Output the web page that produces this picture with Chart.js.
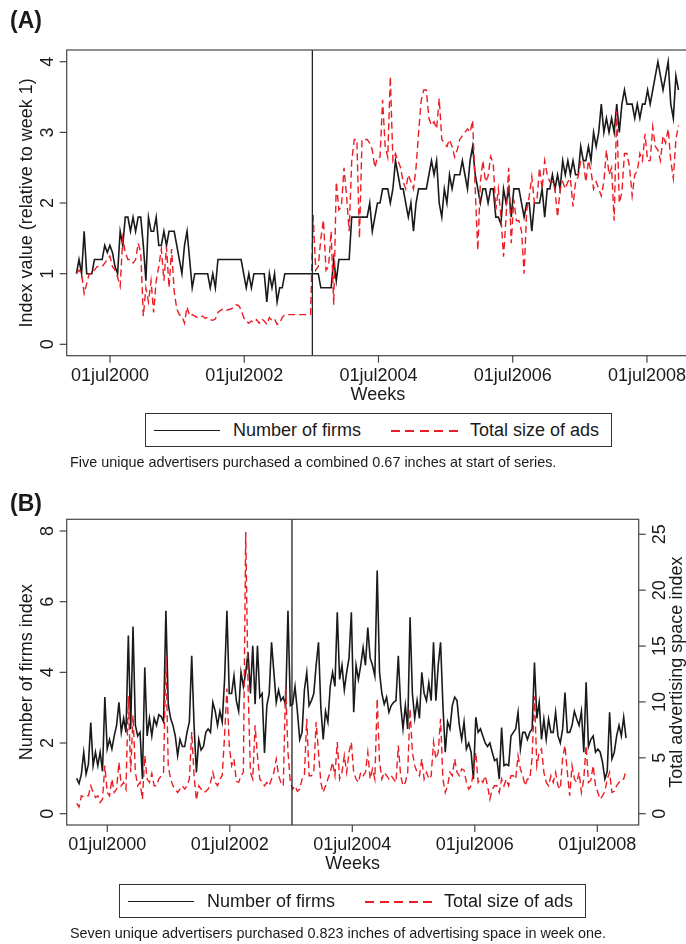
<!DOCTYPE html>
<html>
<head>
<meta charset="utf-8">
<script src="https://cdn.jsdelivr.net/npm/chart.js@4.4.1/dist/chart.umd.min.js"></script>
<style>
  body { margin: 0; width: 686px; height: 944px; overflow: hidden; background: #fff; position: relative;
         font-family: "Liberation Sans", Arial, sans-serif; color: #1a1a1a; }
  canvas { position: absolute; left: 0; }
  #chartA { top: 0; }
  #chartB { top: 470px; }
  .tag { position: absolute; left: 10px; font-weight: bold; font-size: 23px; line-height: 23px; }
  .legend { position: absolute; width: 467px; height: 34px; border: 1px solid #333; box-sizing: border-box; background: #fff; }
  .legend .solid { position: absolute; left: 8px; width: 66px; top: 16px; border-top: 1.5px solid #1a1a1a; }
  .legend .dash { position: absolute; left: 245px; width: 67px; top: 16px; height: 1.5px;
                  background: repeating-linear-gradient(to right, #ec1c24 0 9px, transparent 9px 14.5px); }
  .legend span { position: absolute; top: 6px; font-size: 18px; line-height: 20px; white-space: nowrap; }
  .caption { position: absolute; left: 70px; font-size: 14.4px; line-height: 15px; white-space: nowrap; }
</style>
</head>
<body>
<canvas id="chartA" width="700" height="470"></canvas>
<canvas id="chartB" width="700" height="474"></canvas>

<div class="tag" style="top:9px">(A)</div>
<div class="legend" style="left:145px; top:413px">
  <div class="solid"></div><span style="left:87px">Number of firms</span>
  <div class="dash"></div><span style="left:324px">Total size of ads</span>
</div>
<div class="caption" style="top:455px">Five unique advertisers purchased a combined 0.67 inches at start of series.</div>

<div class="tag" style="top:492px">(B)</div>
<div class="legend" style="left:119px; top:884px">
  <div class="solid"></div><span style="left:87px">Number of firms</span>
  <div class="dash"></div><span style="left:324px">Total size of ads</span>
</div>
<div class="caption" style="top:926px">Seven unique advertisers purchased 0.823 inches of advertising space in week one.</div>

<script>
// samples every two weeks, starting first week of January 2000
const startYear = 2000.0;
const stepYears = 14 / 365.25;
const breakYear = 2003.515;
const tickYears = [2000.5, 2002.5, 2004.5, 2006.5, 2008.5];
const tickLabels = ['01jul2000', '01jul2002', '01jul2004', '01jul2006', '01jul2008'];

// Panel A: index relative to week 1
const firmsA = [
  1.0, 1.2, 1.0, 1.6, 1.0, 1.0, 1.0, 1.2, 1.2, 1.2,
  1.2, 1.4, 1.3, 1.4, 1.3, 1.1, 1.0, 1.6, 1.4, 1.8,
  1.8, 1.6, 1.8, 1.6, 1.8, 1.8, 1.4, 0.9, 1.8, 1.6,
  1.6, 1.8, 1.4, 1.4, 1.6, 1.4, 1.6, 1.6, 1.6, 1.4,
  1.2, 1.0, 1.4, 1.6, 1.2, 0.8, 1.0, 1.0, 1.0, 1.0,
  1.0, 1.0, 0.8, 1.0, 0.8, 1.2, 1.2, 1.2, 1.2, 1.2,
  1.2, 1.2, 1.2, 1.2, 1.2, 1.0, 0.8, 1.0, 0.8, 1.0,
  1.0, 1.0, 1.0, 1.0, 0.6, 1.0, 0.8, 1.0, 0.6, 0.8,
  0.8, 1.0, 1.0, 1.0, 1.0, 1.0, 1.0, 1.0, 1.0, 1.0,
  1.0, 1.0, 1.0, 1.0, 1.0, 0.8, 0.8, 0.8, 0.8, 0.8,
  1.2, 0.9, 1.2, 1.2, 1.2, 1.2, 1.2, 1.8, 1.8, 1.8,
  1.8, 1.8, 1.8, 1.8, 2.0, 1.6, 1.8, 2.0, 2.0, 2.2,
  2.2, 2.2, 2.0, 2.2, 2.6, 2.4, 2.2, 2.2, 2.0, 1.8,
  2.0, 1.6, 2.0, 2.2, 2.2, 2.2, 2.2, 2.4, 2.6, 2.4,
  2.6, 2.0, 1.8, 2.2, 2.0, 2.4, 2.2, 2.4, 2.4, 2.4,
  2.6, 2.4, 2.2, 2.6, 2.8, 2.4, 2.2, 2.0, 2.2, 2.2,
  2.0, 2.2, 2.2, 1.8, 1.8, 1.7, 2.2, 2.0, 2.2, 1.8,
  2.2, 2.2, 2.2, 2.0, 1.8, 2.0, 2.0, 1.6, 2.0, 2.0,
  2.0, 2.2, 1.8, 2.2, 2.2, 2.4, 2.2, 2.4, 2.2, 2.6,
  2.4, 2.6, 2.4, 2.6, 2.4, 2.4, 2.8, 2.6, 2.6, 2.8,
  2.6, 3.0, 2.8, 3.0, 3.4, 3.0, 3.2, 3.0, 3.2, 3.0,
  3.4, 3.0, 3.4, 3.6, 3.4, 3.4, 3.4, 3.2, 3.4, 3.2,
  3.4, 3.4, 3.6, 3.4, 3.6, 3.8, 4.0, 3.8, 3.6, 3.8,
  4.0, 3.4, 3.2, 3.8, 3.6
];
const adsA = [
  1.0, 1.05, 1.0, 0.72, 0.86, 1.0, 1.0, 1.05, 1.1, 1.1,
  1.1, 1.15, 1.2, 1.25, 1.1, 1.05, 0.95, 0.82, 1.5, 1.3,
  1.2, 1.2, 1.15, 1.2, 1.43, 1.3, 0.4, 0.8, 0.6, 0.9,
  0.45, 0.9, 1.1, 1.35, 0.9, 1.38, 0.8, 1.35, 0.75, 0.5,
  0.42, 0.4, 0.3, 0.53, 0.4, 0.42, 0.4, 0.38, 0.38, 0.4,
  0.37, 0.38, 0.35, 0.34, 0.36, 0.45, 0.48, 0.5, 0.48, 0.49,
  0.5, 0.52, 0.56, 0.55, 0.49, 0.38, 0.32, 0.3, 0.33, 0.31,
  0.35, 0.3, 0.36, 0.33, 0.28, 0.38, 0.34, 0.36, 0.28, 0.3,
  0.38, 0.42, 0.42, 0.42, 0.42, 0.42, 0.42, 0.42, 0.42, 0.42,
  0.42, 0.42, 1.83, 1.05, 1.1, 1.5, 1.76, 1.05, 1.1, 1.6,
  0.56, 2.3, 1.9, 1.95, 2.5, 2.1, 1.6, 2.6, 2.9, 2.9,
  1.5, 2.9, 2.9, 2.9, 2.85, 2.75, 2.5, 2.65, 2.65, 3.46,
  2.8, 2.65, 3.79, 2.6, 2.7, 2.6, 2.5, 2.3, 2.2, 2.4,
  2.3, 2.2, 2.5, 3.0, 3.45, 3.6, 3.6, 3.2, 3.1, 3.15,
  3.05, 3.48, 2.9, 2.85, 2.8, 2.9, 2.8, 2.65, 2.75, 2.9,
  2.95, 3.0, 3.05, 3.0, 3.17, 2.2, 1.33, 2.3, 2.6, 2.3,
  2.38, 2.66, 2.56, 1.9, 2.2, 1.8, 1.24, 1.8, 2.5, 1.43,
  2.05, 1.75, 1.75, 1.6, 1.0, 1.9, 2.1, 2.37, 2.0, 2.05,
  2.5, 2.2, 2.6, 2.4, 2.3, 2.3, 2.2, 1.8, 2.2, 2.3,
  2.2, 2.3, 2.35, 1.95, 2.3, 2.37, 2.6, 2.6, 2.3, 2.6,
  2.45, 2.2, 2.3, 2.2, 2.1, 2.3, 2.75, 2.4, 2.5, 1.75,
  3.3, 2.0, 2.15, 2.7, 2.7, 2.5, 2.1, 2.4, 2.45, 2.7,
  2.6, 2.98, 2.6, 2.6, 3.08, 2.8, 2.75, 2.6, 2.95, 2.85,
  3.05, 2.6, 2.35, 2.9, 3.1
];

// Panel B: number of firms index (left axis), advertising space index (right axis)
const firmsB = [
  1.0, 0.85, 1.12, 1.74, 1.12, 1.4, 2.58, 1.36, 1.74, 1.36,
  1.74, 1.2, 3.3, 1.83, 2.1, 1.83, 2.2, 2.5, 3.15, 2.3,
  2.7, 2.3, 5.04, 2.4, 5.3, 2.5, 2.2, 2.3, 0.98, 4.14,
  2.2, 2.7, 2.2, 2.7, 2.5, 2.8, 2.75, 2.6, 5.74, 3.1,
  2.7, 2.5, 2.2, 1.64, 2.1, 1.9, 1.9, 2.3, 2.6, 4.47,
  2.5, 1.17, 2.1, 1.8, 1.9, 2.3, 2.4, 2.3, 3.15, 2.9,
  2.5, 2.9, 2.6, 3.8, 5.74, 3.4, 3.4, 3.9, 3.2, 2.9,
  4.0, 3.6, 4.0, 4.57, 3.4, 4.75, 3.1, 4.75, 3.3, 3.4,
  1.72, 3.06, 3.4, 4.85, 4.0, 3.15, 3.5, 3.2, 3.3, 3.06,
  5.74, 3.06, 3.1, 3.6, 2.9, 2.1, 2.3, 3.5, 4.0, 3.06,
  3.2, 3.4, 4.2, 4.85, 3.0, 2.1, 2.9, 2.6, 3.6, 4.0,
  3.6, 5.7, 3.8, 4.2, 3.5, 4.0, 4.4, 5.7, 2.87, 4.2,
  3.8, 4.2, 4.7, 4.2, 5.27, 4.4, 4.2, 3.9, 6.88, 4.0,
  3.4, 3.1, 3.3, 2.87, 3.06, 3.15, 3.2, 4.47, 3.06, 2.4,
  3.06, 2.4, 5.56, 3.4, 2.7, 3.2, 2.7, 4.0, 3.4, 3.2,
  3.7, 3.2, 4.85, 3.2, 4.2, 4.85, 3.06, 1.74, 2.6, 2.4,
  3.06, 3.3, 3.2, 2.5, 2.1, 2.6, 1.83, 2.0, 1.74, 0.98,
  2.73, 2.3, 2.4, 2.2, 2.0, 1.9, 2.0, 1.74, 1.5, 1.55,
  0.98, 2.44, 1.36, 1.4, 1.36, 2.2, 2.3, 2.4, 2.87, 1.83,
  2.3, 2.3, 2.1, 2.3, 2.4, 4.28, 2.7, 3.15, 2.1, 2.68,
  2.1, 2.68, 2.3, 2.3, 2.87, 2.2, 2.0, 2.4, 3.43, 2.3,
  2.3, 2.5, 2.9, 2.68, 2.5, 2.9, 1.74, 3.72, 1.9, 2.1,
  2.2, 1.74, 1.83, 1.74, 1.45, 0.98, 1.2, 2.87, 1.55, 1.74,
  2.2, 2.5, 2.2, 2.73, 2.14
];
const adsB = [
  0.92, 0.6, 1.6, 1.5, 1.6, 1.6, 2.5, 1.9, 1.45, 1.6,
  1.0, 1.3, 4.3, 1.9, 1.6, 3.1, 1.9, 2.2, 4.6, 2.5,
  2.8, 2.2, 10.5, 3.7, 8.8, 3.7, 2.5, 2.8, 1.3, 5.2,
  3.1, 2.8, 3.6, 2.5, 2.5, 3.1, 3.4, 3.7, 14.1, 4.3,
  3.1, 2.5, 2.2, 1.9, 2.2, 2.5, 2.2, 2.5, 3.1, 7.3,
  3.4, 1.2, 2.5, 2.2, 1.9, 2.0, 2.2, 2.8, 3.7, 2.8,
  2.5, 3.1, 3.4, 7.0, 11.2, 6.1, 4.3, 4.9, 2.9, 2.8,
  3.4, 3.7, 25.2, 11.4, 3.7, 3.1, 7.9, 5.2, 3.1, 2.8,
  2.5, 2.8, 2.5, 3.1, 3.7, 4.9, 3.4, 2.8, 2.5, 11.4,
  5.5, 2.8, 2.2, 2.5, 2.0, 2.2, 3.1, 3.4, 8.5, 3.4,
  3.4, 3.7, 8.2, 5.5, 2.8, 1.9, 2.5, 3.1, 3.7, 4.6,
  3.4, 6.4, 3.1, 3.7, 5.2, 3.7, 5.5, 6.4, 3.7, 3.1,
  2.8, 3.7, 3.4, 3.7, 5.5, 3.1, 4.0, 3.1, 10.3, 4.6,
  3.1, 3.7, 3.4, 3.1, 3.4, 3.1, 2.8, 6.1, 3.4, 2.5,
  2.8, 3.7, 9.4, 5.5, 4.3, 3.7, 3.4, 4.9, 3.1, 3.7,
  3.1, 3.4, 6.4, 4.9, 5.5, 8.5, 3.1, 1.9, 2.5, 3.7,
  3.4, 4.9, 3.7, 3.4, 4.0, 3.9, 2.8, 2.2, 2.5, 3.7,
  5.5, 2.8, 3.1, 2.8, 3.4, 2.5, 1.3, 2.2, 2.5, 2.5,
  1.9, 3.1, 2.5, 3.1, 2.5, 3.4, 3.4, 3.1, 5.2, 4.0,
  3.4, 2.5, 3.1, 3.1, 5.0, 10.5, 4.3, 5.5, 5.8, 3.7,
  2.8, 2.5, 3.4, 2.8, 3.7, 2.5, 2.2, 5.0, 6.1, 3.7,
  1.6, 4.3, 3.1, 2.8, 3.7, 1.9, 3.1, 6.1, 2.8, 3.0,
  4.3, 2.5, 1.9, 1.3, 1.6, 2.0, 3.1, 3.7, 1.9, 2.0,
  2.5, 2.8, 3.1, 3.1, 3.9
];

const BLACK = '#1a1a1a';
const RED = '#ec1c24';
const FONT = '18px "Liberation Sans", Arial, sans-serif';

const toPoints = vals => vals.map((v, i) => ({ x: startYear + i * stepYears, y: v }));

// R-style frame: box, divider, outside ticks and rotated labels
const framePlugin = {
  id: 'rframe',
  afterDatasetsDraw(chart, args, opts) {
    const ctx = chart.ctx;
    const a = chart.chartArea;
    const xs = chart.scales.x;
    ctx.save();

    const bx = xs.getPixelForValue(breakYear);
    ctx.strokeStyle = '#222';
    ctx.lineWidth = 1.3;
    ctx.beginPath();
    ctx.moveTo(bx, a.top);
    ctx.lineTo(bx, a.bottom);
    ctx.stroke();

    ctx.strokeStyle = '#444';
    ctx.lineWidth = 1.2;
    ctx.strokeRect(a.left, a.top, a.right - a.left, a.bottom - a.top);

    ctx.fillStyle = BLACK;
    ctx.font = FONT;
    ctx.textAlign = 'center';
    ctx.textBaseline = 'alphabetic';

    tickYears.forEach((t, k) => {
      const px = xs.getPixelForValue(t);
      ctx.beginPath();
      ctx.moveTo(px, a.bottom);
      ctx.lineTo(px, a.bottom + 7);
      ctx.stroke();
      ctx.fillText(tickLabels[k], px, a.bottom + 25.3);
    });
    ctx.fillText('Weeks', (a.left + a.right) / 2, a.bottom + 44);

    const rotText = (txt, x, y) => {
      ctx.save();
      ctx.translate(x, y);
      ctx.rotate(-Math.PI / 2);
      ctx.fillText(txt, 0, 0);
      ctx.restore();
    };

    opts.axes.forEach(ax => {
      const sc = chart.scales[ax.id];
      const left = ax.side === 'left';
      const edge = left ? a.left : a.right;
      const dir = left ? -1 : 1;
      ax.ticks.forEach(v => {
        const py = sc.getPixelForValue(v);
        ctx.beginPath();
        ctx.moveTo(edge, py);
        ctx.lineTo(edge + dir * 7, py);
        ctx.stroke();
        rotText(String(v), left ? edge - 13.4 : edge + 25.8, py);
      });
      rotText(ax.title, left ? edge - 34.7 : edge + 43.5, (a.top + a.bottom) / 2);
    });

    ctx.restore();
  }
};

const baseOptions = (padding, xMin, xMax, scales, axes) => ({
  responsive: false,
  animation: false,
  devicePixelRatio: 1,
  layout: { padding },
  plugins: { legend: { display: false }, tooltip: { enabled: false }, rframe: { axes } },
  elements: { point: { radius: 0 }, line: { tension: 0 } },
  scales: Object.assign({ x: { type: 'linear', min: xMin, max: xMax, display: false } }, scales)
});

new Chart(document.getElementById('chartA'), {
  type: 'line',
  data: {
    datasets: [
      { label: 'Total size of ads', data: toPoints(adsA), borderColor: RED, borderWidth: 1.4, borderDash: [7, 4] },
      { label: 'Number of firms', data: toPoints(firmsA), borderColor: BLACK, borderWidth: 1.6 }
    ]
  },
  options: baseOptions(
    { left: 66.7, top: 50, right: 11, bottom: 114.3 },
    1999.855, 2009.126,
    { y: { type: 'linear', min: -0.161, max: 4.166, display: false } },
    [{ id: 'y', side: 'left', ticks: [0, 1, 2, 3, 4], title: 'Index value (relative to week 1)' }]
  ),
  plugins: [framePlugin]
});

new Chart(document.getElementById('chartB'), {
  type: 'line',
  data: {
    datasets: [
      { label: 'Total size of ads', data: toPoints(adsB), yAxisID: 'y2', borderColor: RED, borderWidth: 1.4, borderDash: [7, 4] },
      { label: 'Number of firms', data: toPoints(firmsB), yAxisID: 'y', borderColor: BLACK, borderWidth: 1.6 }
    ]
  },
  options: baseOptions(
    { left: 66.7, top: 49.3, right: 61.3, bottom: 119 },
    1999.837, 2009.176,
    {
      y: { type: 'linear', min: -0.32, max: 8.331, display: false },
      y2: { type: 'linear', min: -1.011, max: 26.34, display: false }
    },
    [
      { id: 'y', side: 'left', ticks: [0, 2, 4, 6, 8], title: 'Number of firms index' },
      { id: 'y2', side: 'right', ticks: [0, 5, 10, 15, 20, 25], title: 'Total advertising space index' }
    ]
  ),
  plugins: [framePlugin]
});
</script>
</body>
</html>
